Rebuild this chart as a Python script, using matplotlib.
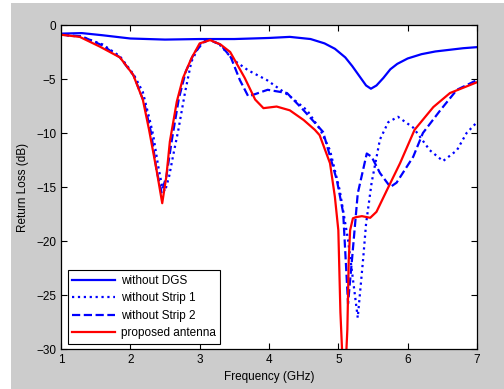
import matplotlib.pyplot as plt
from matplotlib.patches import Rectangle

plt.rcParams['font.family'] = ['Liberation Sans', 'DejaVu Sans']

# without DGS (solid blue)
f_nodgs = [1.0, 1.3, 1.6, 2.0, 2.5, 3.0, 3.5, 4.0, 4.3, 4.6, 4.8, 4.95, 5.1, 5.2, 5.3, 5.4, 5.47,
           5.55, 5.65, 5.75, 5.85, 6.0, 6.2, 6.4, 6.6, 6.8, 7.0]
s_nodgs = [-0.8, -0.75, -0.95, -1.25, -1.35, -1.3, -1.3, -1.2, -1.1, -1.3, -1.7, -2.2, -3.0, -3.8, -4.7,
           -5.6, -5.9, -5.6, -4.9, -4.1, -3.6, -3.1, -2.7, -2.45, -2.3, -2.15, -2.05]

# without Strip 1 (dotted)
f_s1 = [1.0, 1.3, 1.6, 1.85, 2.05, 2.18, 2.28, 2.33, 2.4, 2.46, 2.5, 2.56, 2.62, 2.69, 2.79, 2.88, 3.0,
        3.15, 3.3, 3.48, 3.7, 3.97, 4.3, 4.55, 4.74, 4.88, 5.02, 5.14, 5.2, 5.28, 5.36, 5.4, 5.48,
        5.6, 5.72, 5.86, 6.08, 6.32, 6.51, 6.71, 6.85, 7.0]
s_s1 = [-0.9, -1.1, -1.8, -2.9, -4.6, -6.2, -8.8, -10.2, -13.0, -15.0, -15.4, -14.0, -12.0, -9.8, -6.2,
        -3.4, -1.85, -1.3, -1.9, -3.2, -4.2, -5.1, -6.6, -7.9, -9.7, -11.6, -15.3, -19.9, -23.0,
        -27.1, -21.5, -18.4, -14.6, -10.6, -9.0, -8.5, -9.5, -11.6, -12.6, -11.6, -10.0, -9.0]

# without Strip 2 (dashed)
f_s2 = [1.0, 1.3, 1.6, 1.85, 2.05, 2.2, 2.3, 2.38, 2.45, 2.52, 2.6, 2.7, 2.8, 2.92, 3.1, 3.3, 3.45,
        3.58, 3.7, 3.8, 3.98, 4.26, 4.5, 4.78, 4.98, 5.07, 5.14, 5.2, 5.28, 5.41, 5.48, 5.6, 5.75,
        5.84, 6.08, 6.22, 6.47, 6.71, 7.0]
s_s2 = [-0.9, -1.05, -1.9, -3.0, -4.7, -7.2, -10.0, -13.5, -15.5, -14.0, -10.6, -6.8, -4.3, -2.6,
        -1.3, -1.8, -3.0, -5.1, -6.6, -6.4, -6.0, -6.3, -7.9, -9.9, -14.4, -17.4, -25.8, -21.5,
        -15.6, -11.9, -12.2, -13.7, -15.0, -14.6, -12.2, -10.0, -7.9, -6.0, -5.1]

# proposed antenna (solid red)
f_prop = [1.0, 1.27, 1.56, 1.85, 2.04, 2.18, 2.27, 2.38, 2.46, 2.52, 2.57, 2.67, 2.76, 2.88, 3.0,
          3.15, 3.3, 3.44, 3.65, 3.8, 3.92, 4.11, 4.3, 4.5, 4.66, 4.73, 4.88, 4.95, 5.0, 5.03,
          5.06, 5.11, 5.13, 5.15, 5.17, 5.21, 5.25, 5.34, 5.46, 5.55, 5.7, 5.89, 6.1, 6.37, 6.61, 7.0]
s_prop = [-0.9, -1.1, -2.0, -3.0, -4.6, -6.9, -9.7, -13.5, -16.5, -14.0, -10.8, -7.1, -4.9, -3.1,
          -1.7, -1.4, -1.8, -2.5, -4.9, -6.9, -7.7, -7.55, -7.9, -8.8, -9.7, -10.2, -12.8, -15.9,
          -19.0, -26.6, -31.0, -31.0, -28.2, -21.8, -19.0, -17.9, -17.8, -17.7, -17.85, -17.3,
          -15.3, -12.8, -9.7, -7.6, -6.3, -5.3]

fig = plt.figure(figsize=(5.04, 3.89), dpi=100, facecolor='white')
fig.patches.append(Rectangle((11 / 504, 0), 1, (389 - 3) / 389, transform=fig.transFigure,
                             facecolor='#cccccc', edgecolor='none', zorder=-1))
ax = fig.add_axes([61 / 504, 40 / 389, 416 / 504, 324 / 389])

ax.plot(f_nodgs, s_nodgs, color='#0000ff', lw=1.6, label='without DGS')
ax.plot(f_s1, s_s1, color='#0000ff', lw=1.6, ls=':', label='without Strip 1')
ax.plot(f_s2, s_s2, color='#0000ff', lw=1.6, ls='--', label='without Strip 2')
ax.plot(f_prop, s_prop, color='#ff0000', lw=1.6, label='proposed antenna')

ax.set_xlim(1, 7)
ax.set_ylim(-30, 0)
ax.set_xticks(range(1, 8))
ax.set_yticks(range(-30, 1, 5))
ax.tick_params(direction='in', top=True, right=True, labelsize=8.5, length=4, width=0.8)
for sp in ax.spines.values():
    sp.set_linewidth(0.9)
ax.set_xlabel('Frequency (GHz)', fontsize=8.5, labelpad=4)
ax.set_ylabel('Return Loss (dB)', fontsize=8.5, labelpad=5)

leg = ax.legend(loc='lower left', bbox_to_anchor=(0.016, 0.016), fontsize=8.5, fancybox=False,
                framealpha=1, edgecolor='black', handlelength=3.6, borderpad=0.4,
                labelspacing=0.45, handletextpad=0.5, borderaxespad=0)
leg.get_frame().set_linewidth(0.8)

fig.savefig('out.png', dpi=100, facecolor=fig.get_facecolor())
